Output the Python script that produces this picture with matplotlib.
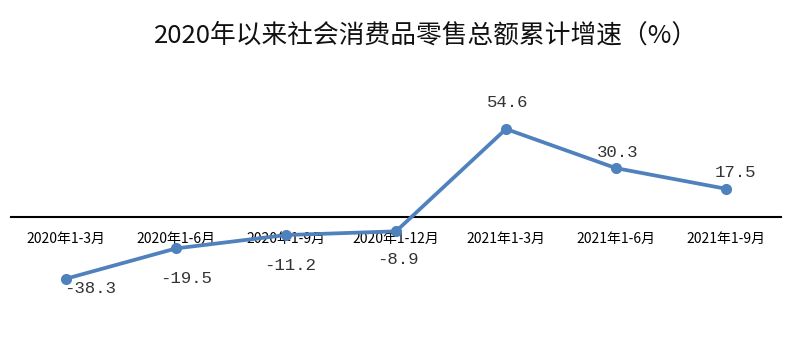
import matplotlib.pyplot as plt

plt.rcParams['font.family'] = ['Noto Sans CJK SC', 'DejaVu Sans']

# data
periods = ["2020年1-3月", "2020年1-6月", "2020年1-9月", "2020年1-12月",
           "2021年1-3月", "2021年1-6月", "2021年1-9月"]
growth = [-38.3, -19.5, -11.2, -8.9, 54.6, 30.3, 17.5]
title = "2020年以来社会消费品零售总额累计增速（%）"

# label offsets in points (dx, dy)
label_offsets = [(17, -7), (7, -22), (3, -22), (1, -20), (1, 19), (1, 11), (7, 12)]

fig = plt.figure(figsize=(8, 3.38), dpi=100)
ax = fig.add_axes([11 / 800, 0.0719, 770 / 800, 0.763])

x = list(range(len(periods)))
ax.plot(x, growth, color="#4F81BD", linewidth=2.7, marker="o", markersize=7,
        zorder=3, solid_capstyle="round")

for xi, v, (dx, dy) in zip(x, growth, label_offsets):
    ax.annotate(f"{v:.1f}", (xi, v), xytext=(dx, dy), textcoords="offset points",
                ha="center", va="center", fontsize=12.5, color="#333333",
                family=["Liberation Mono", "DejaVu Sans Mono"])

ax.set_xlim(-0.5, len(periods) - 0.5)
ax.set_ylim(-60, 100)
ax.set_xticks(x)
ax.set_xticklabels(periods, fontsize=10, color="#333333")
ax.tick_params(axis="x", length=0, pad=11)
ax.set_yticks([])

for s in ["top", "left", "right"]:
    ax.spines[s].set_visible(False)
ax.spines["bottom"].set_position(("data", 0))
ax.spines["bottom"].set_linewidth(1.5)
ax.spines["bottom"].set_color("black")
ax.spines["bottom"].set_zorder(2)

fig.text(0.533, 0.896, title, ha="center", va="center", fontsize=18.5, color="#111111")

fig.savefig("out.png", dpi=100)
